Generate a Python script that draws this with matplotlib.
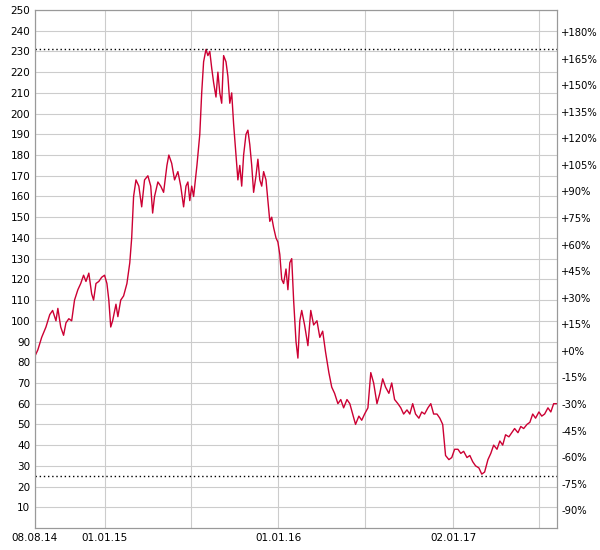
import matplotlib
matplotlib.use("Agg")
import matplotlib.pyplot as plt
import numpy as np
import datetime as dt
import matplotlib.dates as mdates

start = dt.date(2014, 8, 8)
end = dt.date(2017, 8, 8)
# readings: horizontal chart position (px from plot left) and price
pos = [0,3,7,11,15,18,21,23,26,29,31,34,37,40,43,46,49,51,54,57,59,61,64,67,70,72,74,76,78,81,83,86,89,92,95,97,99,101,104,107,110,113,116,118,120,123,126,129,132,134,137,140,143,146,149,151,153,155,157,159,162,165,167,169,171,173,175,177,179,181,183,185,187,189,191,193,195,197,199,201,203,205,207,209,211,213,215,217,219,221,223,225,227,229,231,233,235,237,239,241,243,245,247,249,251,253,255,257,259,261,263,265,267,270,273,276,279,282,285,288,291,294,297,300,303,306,309,312,315,318,321,324,327,330,333,336,339,342,345,348,351,354,357,360,363,366,369,372,375,378,381,384,387,390,393,396,399,402,405,408,411,414,417,420,423,426,429,432,435,438,441,444,447,450,453,456,459,462,465,468,471,474,477,480,483,486,489,492,495,498,501,504,507,510,513,516,519,522]
price = [83,86,92,97,103,105,100,106,97,93,99,101,100,110,115,118,122,119,123,113,110,118,119,121,122,118,110,97,100,108,102,110,112,118,128,140,160,168,165,155,168,170,165,152,160,167,165,162,175,180,176,168,172,165,155,165,167,158,165,160,175,190,210,225,231,228,230,222,215,208,220,210,205,228,225,218,205,210,195,180,168,175,165,180,190,192,185,175,162,170,178,168,165,172,168,158,148,150,145,140,138,132,120,118,125,115,128,130,110,90,82,100,105,98,88,105,98,100,92,95,85,75,68,65,60,62,58,62,60,55,50,54,52,55,58,75,70,60,65,72,68,65,70,62,60,58,55,57,55,60,55,53,56,55,58,60,55,55,53,50,35,33,34,38,38,36,37,34,35,32,30,29,26,27,33,36,40,38,42,40,45,44,46,48,46,49,48,50,51,55,53,56,54,55,58,56,60,60]
base = 85.5
pct_ticks = list(range(-90, 181, 15))
hi_line, lo_line = 231, 25
x_labels = ["08.08.14", "01.01.15", "01.01.16", "02.01.17"]
x_label_dates = [dt.date(2014,8,8), dt.date(2015,1,1), dt.date(2016,1,1), dt.date(2017,1,2)]
x_grid_dates = [dt.date(2015,1,1), dt.date(2015,7,1), dt.date(2016,1,1), dt.date(2016,7,1), dt.date(2017,1,2), dt.date(2017,7,1)]

span = (end - start).days
dates = [start + dt.timedelta(days=p * span / 522) for p in pos]

fig = plt.figure(figsize=(6, 5.5), dpi=100)
ax = fig.add_axes([35/600, 22/550, 522/600, 518/550])
ax.plot(dates, price, color="#cc0033", lw=1)
ax.set_xlim(start, end)
ax.set_ylim(0, 250)
ax.set_yticks(range(10, 251, 10))
ax.set_xticks(x_grid_dates, minor=True)
ax.set_xticks(x_label_dates)
ax.set_xticklabels(x_labels)
ax.grid(True, which="both", axis="x", color="#cccccc", lw=0.8)
ax.grid(True, axis="y", color="#cccccc", lw=0.8)
ax.axhline(hi_line, color="black", ls=(0, (1, 2)), lw=1)
ax.axhline(lo_line, color="black", ls=(0, (1, 2)), lw=1)
ax.tick_params(labelsize=7.5, length=0, which="both")
for s in ax.spines.values():
    s.set_color("#999999")
ax2 = ax.twinx()
ax2.set_ylim(0, 250)
ax2.set_yticks([base * (1 + p / 100) for p in pct_ticks])
ax2.set_yticklabels([f"+{p}%" if p >= 0 else f"{p}%" for p in pct_ticks])
ax2.tick_params(labelsize=7.2, length=0, pad=3)
for s in ax2.spines.values():
    s.set_color("#999999")
fig.savefig("out.png")
